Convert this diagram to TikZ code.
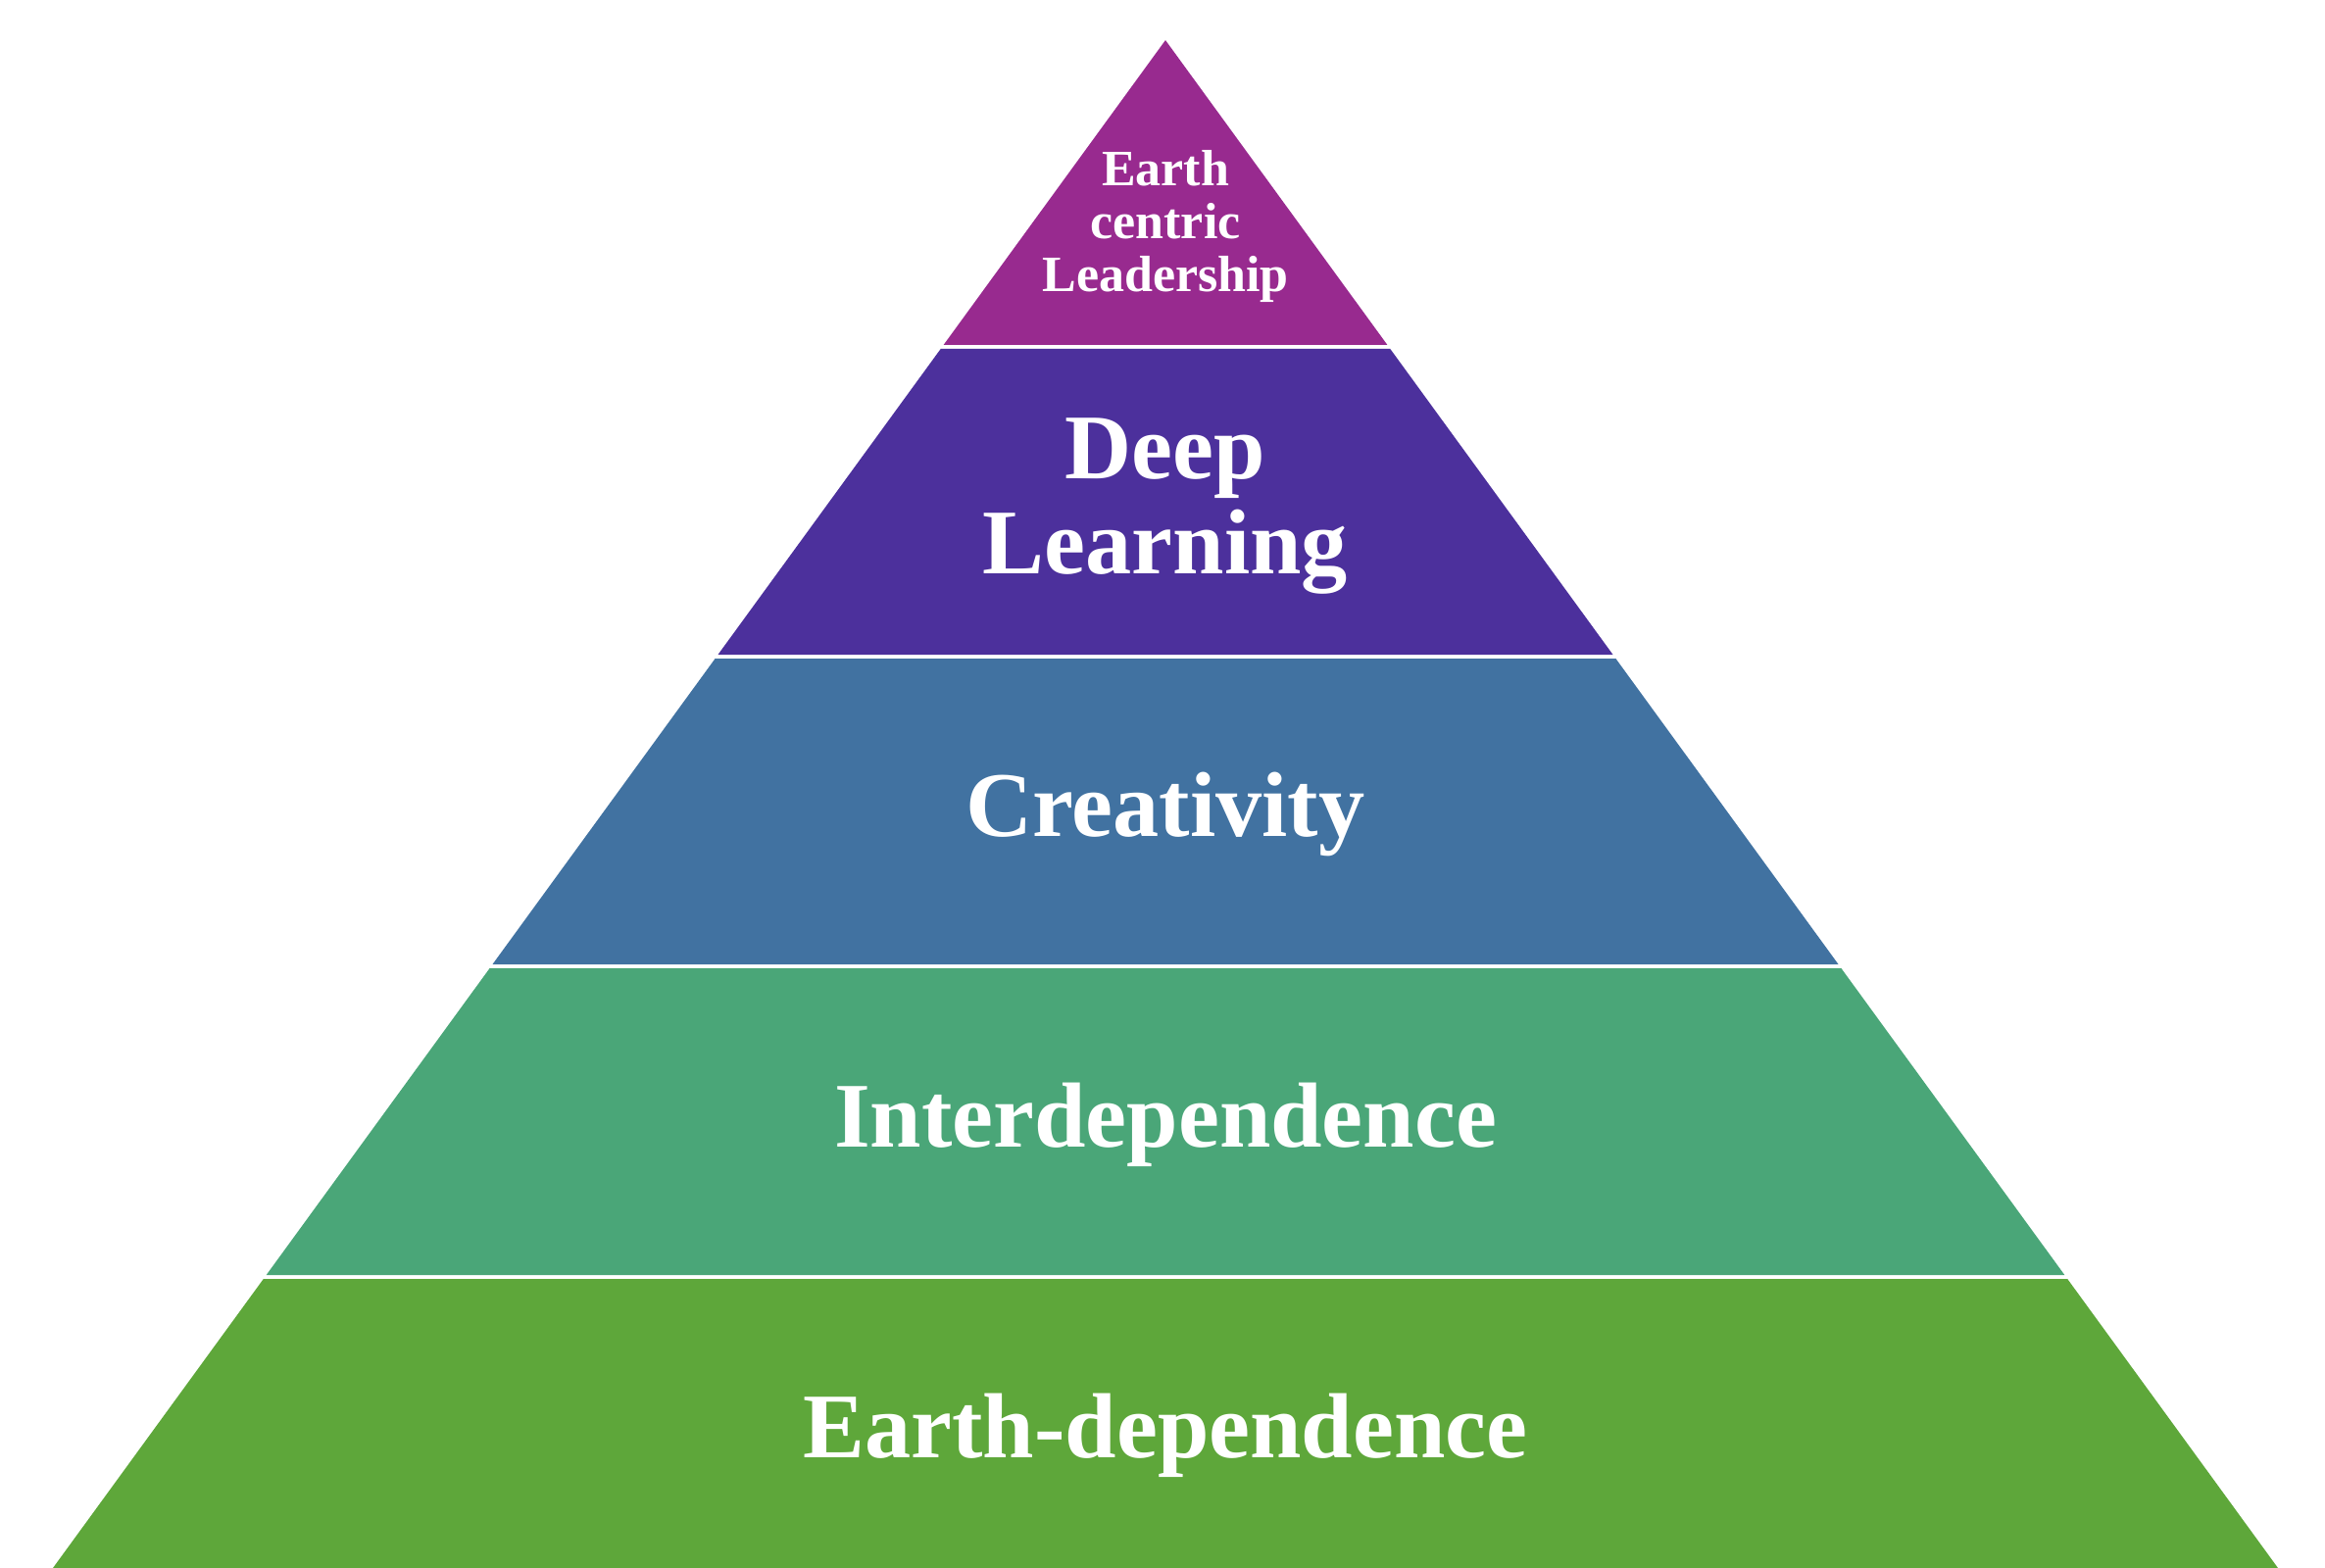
\documentclass[tikz,border=0pt]{standalone}
\usepackage{fontspec}
\setmainfont{Liberation Serif}

\begin{document}
\begin{tikzpicture}[x=0.3pt,y=0.3pt,yscale=-1,xscale=1,
  tier/.style={anchor=base,inner sep=0pt,text=white,align=center,font=\bfseries\fontsize{28.3}{29.4}\selectfont},
  toptier/.style={tier,font=\bfseries\fontsize{15.6}{16.2}\selectfont}]
\useasboundingbox (0,0) rectangle (2372,1600);

%Shape: Triangle [top]
\fill [color={rgb, 255:red, 152; green, 42; blue, 143 }] (1189,41) -- (1415.4,352) -- (962.6,352) -- cycle ;
%Shape: Trapezoid [deep learning]
\fill [color={rgb, 255:red, 76; green, 48; blue, 156 }] (959.7,356) -- (1418.3,356) -- (1645.5,668) -- (732.5,668) -- cycle ;
%Shape: Trapezoid [creativity]
\fill [color={rgb, 255:red, 65; green, 114; blue, 161 }] (729.6,672) -- (1648.4,672) -- (1875.5,984) -- (502.5,984) -- cycle ;
%Shape: Trapezoid [interdependence]
\fill [color={rgb, 255:red, 74; green, 166; blue, 120 }] (499.6,988) -- (1878.4,988) -- (2106.3,1301) -- (271.7,1301) -- cycle ;
%Shape: Trapezoid [earth-dependence]
\fill [color={rgb, 255:red, 94; green, 167; blue, 58 }] (268.8,1305) -- (2109.2,1305) -- (2324,1600) -- (54,1600) -- cycle ;

% Text Node (base = last line)
\node [toptier] (lead) at (1189,298) {Earth\\centric\\Leadership};
% Text Node
\node [tier] (deep) at (1189,586) {Deep\\Learning};
% Text Node
\node [tier] (crea) at (1189,853) {Creativity};
% Text Node
\node [tier] (inter) at (1189,1170) {Interdependence};
% Text Node
\node [tier] (earth) at (1189,1487) {Earth-dependence};

\end{tikzpicture}
\end{document}
